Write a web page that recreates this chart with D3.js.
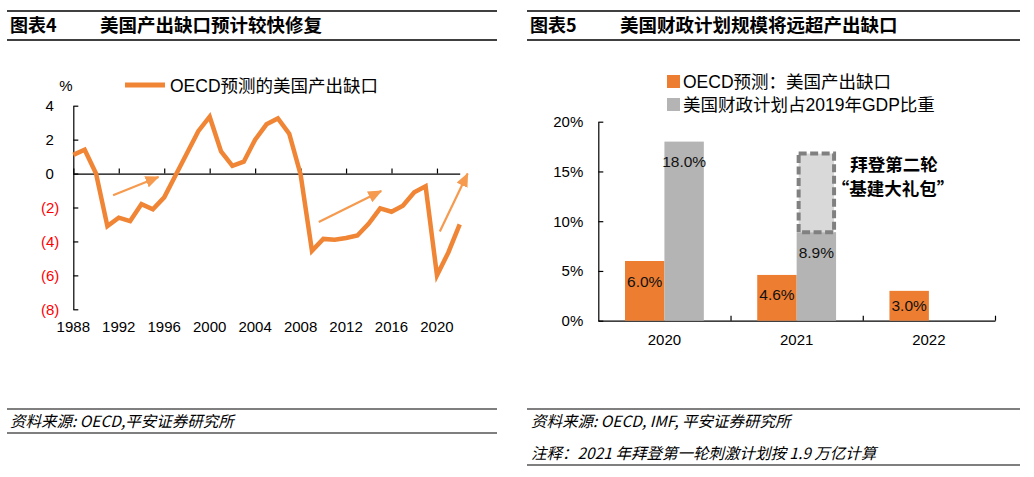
<!DOCTYPE html>
<html lang="zh">
<head>
<meta charset="UTF-8">
<title>美国产出缺口与财政计划</title>
<script src="https://d3js.org/d3.v7.min.js"></script>
<style>
    body { margin: 0; background: #fff; }
    svg { display: block; font-family: "Liberation Sans", Arial, "Noto Sans CJK SC", sans-serif; }
    .cn { font-family: "Noto Sans CJK SC", sans-serif; }
    .axis path, .axis line { stroke: #000; stroke-width: 1.2; }
</style>
</head>
<body>
<div id="chart"></div>
<script>
// ---- left chart: OECD output gap ----
const years = [1988, 1989, 1990, 1991, 1992, 1993, 1994, 1995, 1996, 1997, 1998, 1999,
    2000, 2001, 2002, 2003, 2004, 2005, 2006, 2007, 2008, 2009, 2010, 2011,
    2012, 2013, 2014, 2015, 2016, 2017, 2018, 2019, 2020, 2021, 2022];
const gapValues = [1.1, 1.4, 0.0, -3.1, -2.6, -2.8, -1.8, -2.1, -1.4, -0.1, 1.2, 2.5,
    3.35, 1.3, 0.45, 0.7, 2.0, 2.9, 3.25, 2.35, -0.05, -4.55, -3.85, -3.9,
    -3.8, -3.65, -2.95, -2.05, -2.25, -1.9, -1.1, -0.75, -6.0, -4.65, -3.0];
const yearTicks = [1988, 1992, 1996, 2000, 2004, 2008, 2012, 2016, 2020];
const gapTicks = [4, 2, 0, -2, -4, -6, -8];
// trend arrows: [startYear, startValue, endYear, endValue]
const trendArrows = [
    [1991.5, -1.28, 1995.5, -0.2],
    [2009.6, -2.86, 2015.1, -1.03],
    [2020.25, -3.41, 2022.7, 0.0]
];

// ---- right chart: fiscal plan vs output gap ----
const barYears = ["2020", "2021", "2022"];
const seriesNames = ["OECD预测：美国产出缺口", "美国财政计划占2019年GDP比重"];
const gapForecast = [6.0, 4.6, 3.0];
const fiscalShare = [18.0, 8.9, null];
const packageTop = 17.0; // dashed "infrastructure package" box on 2021
const pctTicks = [0, 5, 10, 15, 20];

const orange = "#ED7D31", lineOrange = "#EF8535", arrowOrange = "#F59A4E", grey = "#B4B4B4";

const svg = d3.select("#chart").append("svg")
    .attr("width", 1034).attr("height", 477);

// headers and footers
function header(x0, x1, tag, title) {
    svg.append("line").attr("x1", x0).attr("x2", x1).attr("y1", 11).attr("y2", 11)
        .attr("stroke", "#000").attr("stroke-width", 1.5);
    svg.append("line").attr("x1", x0).attr("x2", x1).attr("y1", 40).attr("y2", 40)
        .attr("stroke", "#000").attr("stroke-width", 1.5);
    svg.append("text").attr("class", "cn").attr("x", x0 + 3).attr("y", 32)
        .attr("font-size", 18).attr("font-weight", "bold").text(tag);
    svg.append("text").attr("class", "cn").attr("x", x0 + 93).attr("y", 32)
        .attr("font-size", 18.5).attr("font-weight", "bold").text(title);
}
header(7, 497, "图表4", "美国产出缺口预计较快修复");
header(527, 1020, "图表5", "美国财政计划规模将远超产出缺口");

function hline(x0, x1, y) {
    svg.append("line").attr("x1", x0).attr("x2", x1).attr("y1", y).attr("y2", y)
        .attr("stroke", "#000").attr("stroke-width", 1.2);
}
function note(x, y, s) {
    svg.append("text").attr("class", "cn").attr("x", x).attr("y", y)
        .attr("font-size", 15.5).attr("font-style", "italic").text(s);
}
hline(7, 497, 409); hline(7, 497, 433);
note(10, 427, "资料来源: OECD,平安证券研究所");
hline(527, 1020, 409); hline(527, 1020, 465);
note(531, 427, "资料来源: OECD, IMF,  平安证券研究所");
note(531, 459, "注释：2021 年拜登第一轮刺激计划按 1.9 万亿计算");

// ---------- left chart ----------
const x = d3.scaleLinear().domain([1988, 2022]).range([73.3, 459.7]);
const y = d3.scaleLinear().domain([-8, 4]).range([309.3, 105.7]);

const yAxis = svg.append("g").attr("class", "axis")
    .attr("transform", `translate(${x(1988)},0)`)
    .call(d3.axisLeft(y).tickValues(gapTicks).tickSizeInner(-5).tickSizeOuter(0).tickPadding(14)
        .tickFormat(d => d < 0 ? `(${-d})` : d));
yAxis.selectAll("text")
    .attr("font-size", 15)
    .attr("fill", d => d < 0 ? "#FF0000" : "#000")
    .attr("dx", d => d < 0 ? 0 : -5.5);

svg.append("g").attr("class", "axis")
    .attr("transform", `translate(0,${y(0)})`)
    .call(d3.axisBottom(x).tickValues(yearTicks).tickSizeInner(-5).tickSizeOuter(0).tickFormat(""));

svg.append("g").selectAll("text").data(yearTicks).join("text")
    .attr("x", d => x(d)).attr("y", 332)
    .attr("text-anchor", "middle").attr("font-size", 15).text(d => d);

svg.append("text").attr("x", 66).attr("y", 91).attr("text-anchor", "middle")
    .attr("font-size", 15).text("%");

svg.append("path")
    .datum(years.map((yr, i) => [yr, gapValues[i]]))
    .attr("fill", "none").attr("stroke", lineOrange).attr("stroke-width", 4.5)
    .attr("stroke-linejoin", "miter")
    .attr("d", d3.line().x(d => x(d[0])).y(d => y(d[1])));

svg.append("defs").append("marker")
    .attr("id", "head").attr("markerUnits", "userSpaceOnUse")
    .attr("viewBox", "0 0 14 12").attr("refX", 13).attr("refY", 6)
    .attr("markerWidth", 14).attr("markerHeight", 12).attr("orient", "auto")
    .append("path").attr("d", "M0,0 L14,6 L0,12 Z").attr("fill", arrowOrange);

svg.append("g").selectAll("line").data(trendArrows).join("line")
    .attr("x1", d => x(d[0])).attr("y1", d => y(d[1]))
    .attr("x2", d => x(d[2])).attr("y2", d => y(d[3]))
    .attr("stroke", arrowOrange).attr("stroke-width", 2.2)
    .attr("marker-end", "url(#head)");

// legend
svg.append("line").attr("x1", 125).attr("x2", 165).attr("y1", 85).attr("y2", 85)
    .attr("stroke", lineOrange).attr("stroke-width", 5);
svg.append("text").attr("x", 170).attr("y", 92).attr("font-size", 17.5)
    .text("OECD预测的美国产出缺口");

// ---------- right chart ----------
const x0 = d3.scaleBand().domain(barYears).range([598.3, 995]).padding(0);
const x1 = d3.scaleBand().domain(seriesNames)
    .range([26.7, x0.bandwidth() - 26.7]).padding(0);
const yp = d3.scaleLinear().domain([0, 20]).range([320.7, 121.7]);

const pAxis = svg.append("g").attr("class", "axis")
    .attr("transform", `translate(${x0.range()[0]},0)`)
    .call(d3.axisLeft(yp).tickValues(pctTicks).tickSizeInner(-5).tickSizeOuter(0).tickPadding(15)
        .tickFormat(d => d + "%"));
pAxis.selectAll("text").attr("font-size", 15);

svg.append("g").attr("class", "axis")
    .attr("transform", `translate(0,${yp(0)})`)
    .call(d3.axisBottom(d3.scaleLinear().domain([0, 3]).range(x0.range()))
        .tickValues([1, 2, 3]).tickSizeInner(-5).tickSizeOuter(0).tickFormat(""));

svg.append("g").selectAll("text").data(barYears).join("text")
    .attr("x", d => x0(d) + x0.bandwidth() / 2).attr("y", 345)
    .attr("text-anchor", "middle").attr("font-size", 15).text(d => d);

const bars = [];
barYears.forEach((yr, i) => {
    bars.push({ yr, s: seriesNames[0], v: gapForecast[i], c: orange });
    if (fiscalShare[i] != null) bars.push({ yr, s: seriesNames[1], v: fiscalShare[i], c: grey });
});

svg.append("g").selectAll("rect").data(bars).join("rect")
    .attr("x", d => x0(d.yr) + x1(d.s)).attr("width", x1.bandwidth())
    .attr("y", d => yp(d.v)).attr("height", d => yp(0) - yp(d.v))
    .attr("fill", d => d.c);

// dashed package box on top of the 2021 fiscal bar
const boxX = x0("2021") + x1(seriesNames[1]);
svg.append("rect")
    .attr("x", boxX + 2).attr("width", x1.bandwidth() - 4)
    .attr("y", yp(packageTop) + 2).attr("height", yp(fiscalShare[1]) - yp(packageTop) - 2)
    .attr("fill", "#D9D9D9").attr("stroke", "#808080").attr("stroke-width", 4)
    .attr("stroke-dasharray", "8,3.5");

svg.append("g").selectAll("text").data(bars).join("text")
    .attr("x", d => x0(d.yr) + x1(d.s) + x1.bandwidth() / 2)
    .attr("y", d => Math.min(yp(d.v) + 20, (yp(d.v) + yp(0)) / 2) + 5.5)
    .attr("text-anchor", "middle").attr("font-size", 15.5).attr("fill", "#111")
    .text(d => d.v.toFixed(1) + "%");

svg.append("text").attr("class", "cn").attr("x", 894).attr("y", 171)
    .attr("text-anchor", "middle").attr("font-size", 17.5).attr("font-weight", "bold")
    .text("拜登第二轮");
svg.append("text").attr("class", "cn").attr("x", 893).attr("y", 195)
    .attr("text-anchor", "middle").attr("font-size", 17.5).attr("font-weight", "bold")
    .text("“基建大礼包”");

// legend
const lg = svg.append("g").selectAll("g").data(seriesNames).join("g")
    .attr("transform", (d, i) => `translate(667,${81.5 + i * 23})`);
lg.append("rect").attr("x", 0).attr("y", -6.5).attr("width", 13).attr("height", 13)
    .attr("fill", (d, i) => i === 0 ? orange : grey);
lg.append("text").attr("x", 16).attr("y", 6.5).attr("font-size", 17.5).text(d => d);
</script>
</body>
</html>
